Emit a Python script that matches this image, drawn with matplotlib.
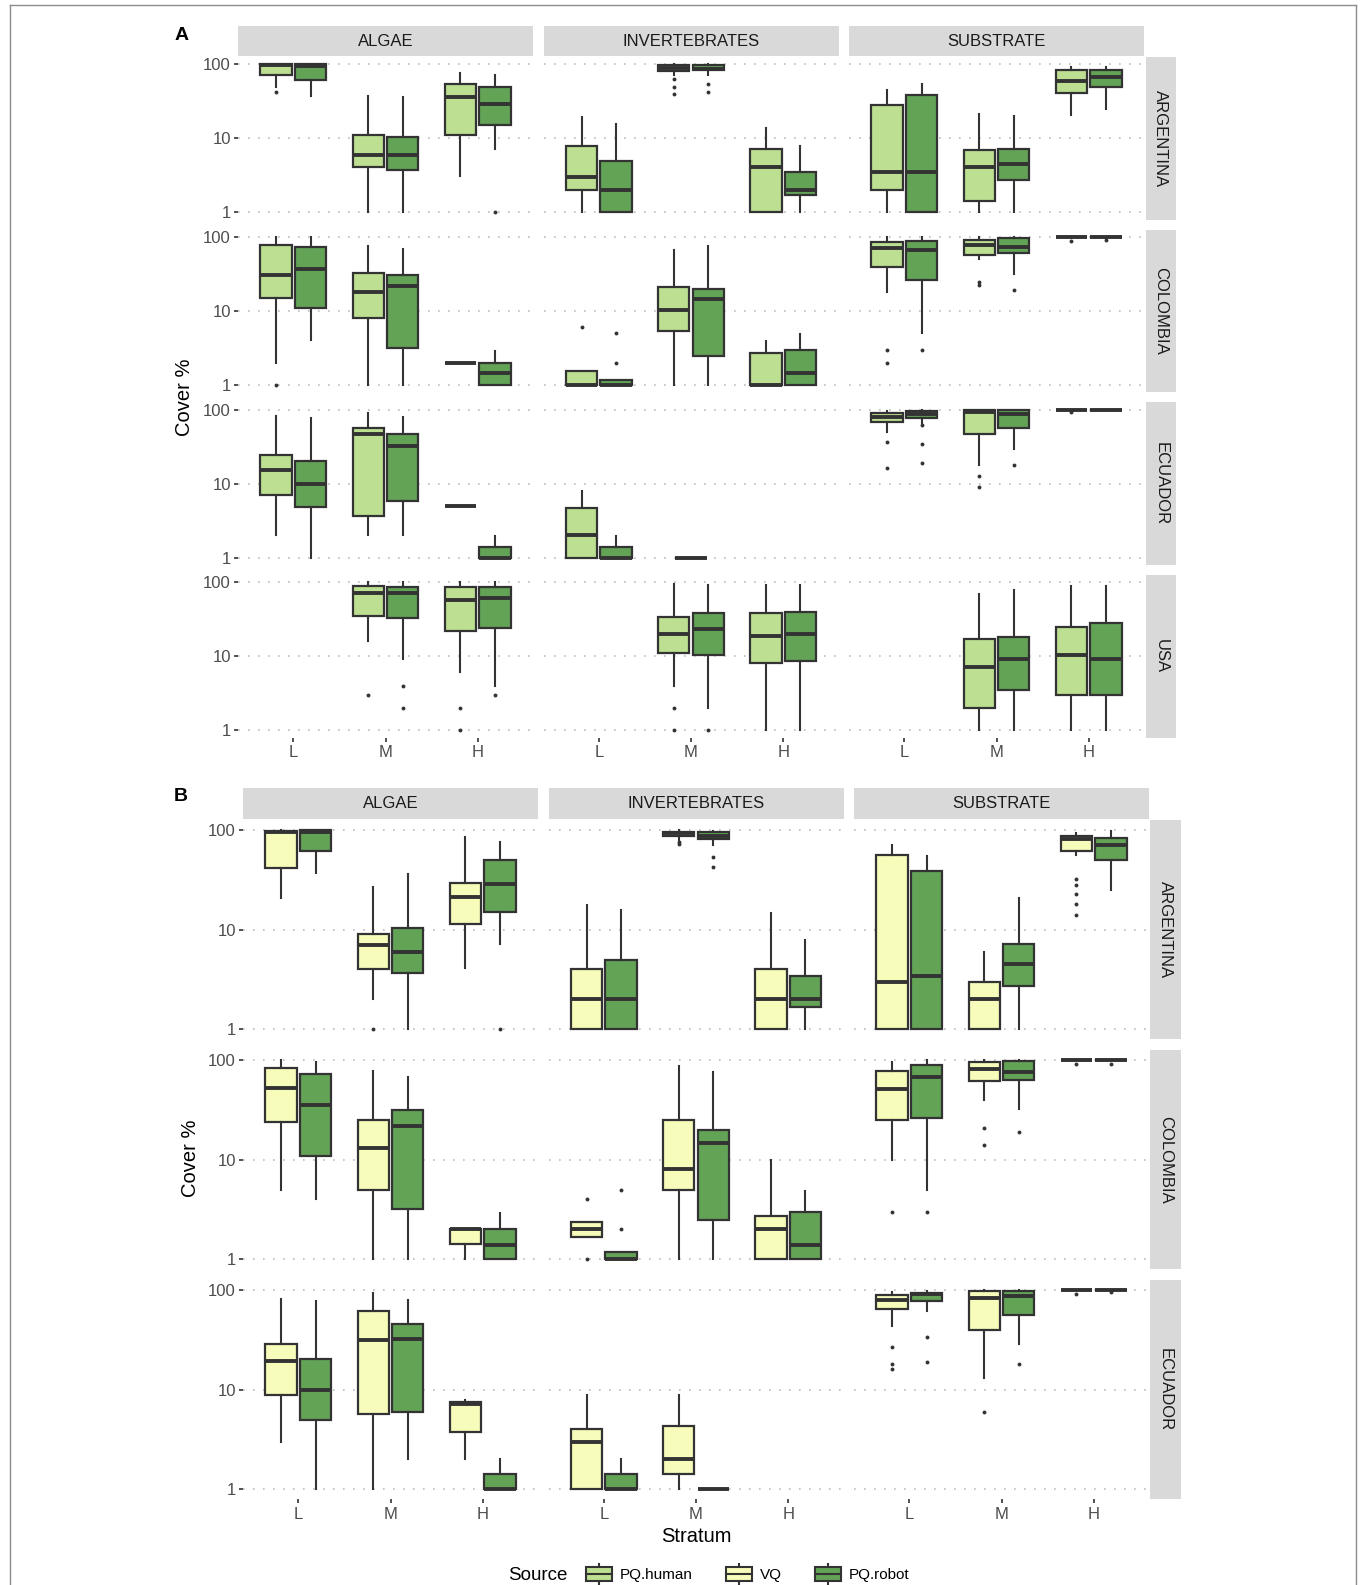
import matplotlib
matplotlib.use('Agg')
import matplotlib.pyplot as plt
from matplotlib.patches import Patch, Rectangle
from matplotlib.lines import Line2D
from matplotlib.legend_handler import HandlerBase

plt.rcParams['font.family'] = ['Liberation Sans', 'DejaVu Sans']

# ---------------------------------------------------------------------------
STRATA = ['L', 'M', 'H']
GROUPS = ['ALGAE', 'INVERTEBRATES', 'SUBSTRATE']
COUNTRIES_A = ['ARGENTINA', 'COLOMBIA', 'ECUADOR', 'USA']
COUNTRIES_B = ['ARGENTINA', 'COLOMBIA', 'ECUADOR']
SOURCES_A = ['PQ.human', 'PQ.robot']
SOURCES_B = ['VQ', 'PQ.robot']
LEGEND_SOURCES = ['PQ.human', 'VQ', 'PQ.robot']
COLORS = {'PQ.human': '#BDDF92', 'VQ': '#F7FCBA', 'PQ.robot': '#62A356'}

# (stratum, source, whisker low, q1, median, q3, whisker high, outliers)
A_ARGENTINA_ALGAE = [
    ('L', 'PQ.human', 50, 72, 98, 100, 100, [43]),
    ('L', 'PQ.robot', 37, 61, 95, 100, 100, []),
    ('M', 'PQ.human', 1, 4.1, 6.0, 11, 37, []),
    ('M', 'PQ.robot', 1, 3.7, 6.0, 10.4, 36, []),
    ('H', 'PQ.human', 3.1, 11, 36, 55, 77, []),
    ('H', 'PQ.robot', 7.2, 15, 29, 49, 73, [1]),
]
A_ARGENTINA_INVERT = [
    ('L', 'PQ.human', 1, 2.0, 3.0, 8.0, 19.6, []),
    ('L', 'PQ.robot', 1, 1, 2.0, 5.0, 15.6, []),
    ('M', 'PQ.human', 72, 82, 90, 97, 100, [63, 50, 40]),
    ('M', 'PQ.robot', 72, 83, 87, 97, 100, [54, 43]),
    ('H', 'PQ.human', 1, 1, 4.1, 7.1, 13.8, []),
    ('H', 'PQ.robot', 1, 1.7, 2.0, 3.5, 7.9, []),
]
A_ARGENTINA_SUBSTRATE = [
    ('L', 'PQ.human', 1, 2.0, 3.5, 28.5, 45, []),
    ('L', 'PQ.robot', 1, 1, 3.5, 38.5, 54, []),
    ('M', 'PQ.human', 1, 1.42, 4.1, 7.0, 21.5, []),
    ('M', 'PQ.robot', 1, 2.7, 4.45, 7.3, 20.2, []),
    ('H', 'PQ.human', 21, 41, 60, 85, 93, []),
    ('H', 'PQ.robot', 25, 50, 68, 84, 93, []),
]
A_COLOMBIA_ALGAE = [
    ('L', 'PQ.human', 2.0, 15.2, 31, 77, 100, [1]),
    ('L', 'PQ.robot', 4.0, 11.1, 37, 73, 100, []),
    ('M', 'PQ.human', 1, 8.0, 18.1, 33, 75, []),
    ('M', 'PQ.robot', 1, 3.2, 22, 31, 68, []),
    ('H', 'PQ.human', 2, 2, 2, 2, 2, []),
    ('H', 'PQ.robot', 1, 1, 1.47, 2.0, 2.9, []),
]
A_COLOMBIA_INVERT = [
    ('L', 'PQ.human', 1, 1, 1, 1.56, 1.56, [6.0]),
    ('L', 'PQ.robot', 1, 1, 1, 1.18, 1.18, [5.0, 2.0]),
    ('M', 'PQ.human', 1, 5.35, 10.2, 21.2, 67, []),
    ('M', 'PQ.robot', 1, 2.5, 14.7, 20, 75, []),
    ('H', 'PQ.human', 1, 1, 1, 2.7, 3.9, []),
    ('H', 'PQ.robot', 1, 1, 1.44, 3.0, 4.9, []),
]
A_COLOMBIA_SUBSTRATE = [
    ('L', 'PQ.human', 18, 39, 70, 85, 100, [3.0, 2.0]),
    ('L', 'PQ.robot', 5.0, 26, 67, 89, 100, [3.0]),
    ('M', 'PQ.human', 50, 58, 77, 92, 100, [25, 22.5]),
    ('M', 'PQ.robot', 32, 61, 74, 98, 100, [19]),
    ('H', 'PQ.human', 98, 99, 100, 100, 100, [88]),
    ('H', 'PQ.robot', 98, 99, 100, 100, 100, [91]),
]
A_ECUADOR_ALGAE = [
    ('L', 'PQ.human', 2.0, 7.0, 15.5, 24, 83, []),
    ('L', 'PQ.robot', 1, 4.9, 10, 20.5, 78, []),
    ('M', 'PQ.human', 2.0, 3.7, 47, 57, 90, []),
    ('M', 'PQ.robot', 2.0, 5.9, 32, 47, 80, []),
    ('H', 'PQ.human', 5, 5, 5, 5, 5, []),
    ('H', 'PQ.robot', 1, 1, 1, 1.41, 1.95, []),
]
A_ECUADOR_INVERT = [
    ('L', 'PQ.human', 1, 1, 2.0, 4.7, 7.9, []),
    ('L', 'PQ.robot', 1, 1, 1, 1.41, 1.95, []),
    ('M', 'PQ.robot', 1, 1, 1, 1, 1, []),
]
A_ECUADOR_SUBSTRATE = [
    ('L', 'PQ.human', 50, 68, 80, 90, 95, [37, 16]),
    ('L', 'PQ.robot', 65, 78, 86, 96, 100, [61, 34, 19]),
    ('M', 'PQ.human', 18, 47, 93, 100, 100, [12.7, 8.9]),
    ('M', 'PQ.robot', 29, 56, 86, 100, 100, [18]),
    ('H', 'PQ.human', 99, 100, 100, 100, 100, [93]),
    ('H', 'PQ.robot', 100, 100, 100, 100, 100, []),
]
A_USA_ALGAE = [
    ('M', 'PQ.human', 16, 35, 72, 90, 100, [3.0]),
    ('M', 'PQ.robot', 9.2, 33, 72, 86, 100, [4.0, 2.0]),
    ('H', 'PQ.human', 6.1, 22, 58, 86, 100, [2.0, 1.0]),
    ('H', 'PQ.robot', 4.0, 24, 62, 85, 100, [3.0]),
]
A_USA_INVERT = [
    ('M', 'PQ.human', 4.0, 11, 20, 34, 96, [2.0, 1.0]),
    ('M', 'PQ.robot', 2.0, 10.4, 23, 38, 92, [1.0]),
    ('H', 'PQ.human', 1, 8.0, 19, 38, 92, []),
    ('H', 'PQ.robot', 1, 8.5, 20, 40, 92, []),
]
A_USA_SUBSTRATE = [
    ('M', 'PQ.human', 1, 2.0, 7.1, 17.2, 70, []),
    ('M', 'PQ.robot', 1, 3.45, 9.2, 17.9, 78, []),
    ('H', 'PQ.human', 1, 3.0, 10.5, 24.5, 88, []),
    ('H', 'PQ.robot', 1, 3.0, 9.1, 27.8, 88, []),
]

B_ARGENTINA_ALGAE = [
    ('L', 'VQ', 21, 42, 95, 98, 100, []),
    ('L', 'PQ.robot', 37, 62, 95, 100, 100, []),
    ('M', 'VQ', 2.0, 4.0, 7.0, 9.0, 26.6, [1.0]),
    ('M', 'PQ.robot', 1, 3.7, 6.0, 10.5, 36.5, []),
    ('H', 'VQ', 4.1, 11.5, 21.4, 29.4, 85, []),
    ('H', 'PQ.robot', 7.1, 15.2, 29, 49.6, 75, [1.0]),
]
B_ARGENTINA_INVERT = [
    ('L', 'VQ', 1, 1, 2.0, 4.0, 17.8, []),
    ('L', 'PQ.robot', 1, 1, 2.0, 5.0, 15.9, []),
    ('M', 'VQ', 80, 87, 93, 96, 100, [76, 72.5]),
    ('M', 'PQ.robot', 70, 81, 86, 95, 98.5, [54, 43]),
    ('H', 'VQ', 1, 1, 2.0, 4.0, 14.8, []),
    ('H', 'PQ.robot', 1, 1.66, 2.0, 3.43, 7.9, []),
]
B_ARGENTINA_SUBSTRATE = [
    ('L', 'VQ', 1, 1, 3.0, 55.7, 70.7, []),
    ('L', 'PQ.robot', 1, 1, 3.45, 39, 55, []),
    ('M', 'VQ', 1, 1, 2.0, 3.0, 5.9, []),
    ('M', 'PQ.robot', 1, 2.7, 4.5, 7.2, 20.8, []),
    ('H', 'VQ', 56, 62, 81, 86, 93, [32.5, 28, 23, 18, 14]),
    ('H', 'PQ.robot', 25, 50, 70, 84, 97, []),
]
B_COLOMBIA_ALGAE = [
    ('L', 'VQ', 5.0, 24, 52, 84, 100, []),
    ('L', 'PQ.robot', 4.0, 11, 35, 73, 96.5, []),
    ('M', 'VQ', 1, 5.0, 13.1, 25, 78, []),
    ('M', 'PQ.robot', 1, 3.2, 22, 31.4, 68, []),
    ('H', 'VQ', 1, 1.41, 2.0, 2.03, 2.03, []),
    ('H', 'PQ.robot', 1, 1, 1.4, 2.0, 2.94, []),
]
B_COLOMBIA_INVERT = [
    ('L', 'VQ', 1.68, 1.68, 2.0, 2.35, 2.35, [4.0, 1.0]),
    ('L', 'PQ.robot', 1, 1, 1, 1.18, 1.18, [5.0, 2.0]),
    ('M', 'VQ', 1, 5.0, 8.0, 25, 86, []),
    ('M', 'PQ.robot', 1, 2.5, 14.6, 19.8, 76, []),
    ('H', 'VQ', 1, 1, 2.0, 2.7, 10, []),
    ('H', 'PQ.robot', 1, 1, 1.4, 3.0, 4.9, []),
]
B_COLOMBIA_SUBSTRATE = [
    ('L', 'VQ', 10, 25, 51, 78, 95, [3.0]),
    ('L', 'PQ.robot', 5.0, 26, 68, 89, 100, [3.0]),
    ('M', 'VQ', 40, 61.5, 82, 96, 100, [21, 14]),
    ('M', 'PQ.robot', 32, 62.5, 75, 97.6, 100, [19]),
    ('H', 'VQ', 99, 100, 100, 100, 100, [91]),
    ('H', 'PQ.robot', 99, 100, 100, 100, 100, [91]),
]
B_ECUADOR_ALGAE = [
    ('L', 'VQ', 3.0, 8.9, 19.3, 28.4, 81, []),
    ('L', 'PQ.robot', 1, 5.0, 10, 20.4, 78, []),
    ('M', 'VQ', 1, 5.75, 31.6, 62, 93, []),
    ('M', 'PQ.robot', 2.0, 5.9, 32, 46, 79, []),
    ('H', 'VQ', 2.0, 3.74, 7.1, 7.5, 7.8, []),
    ('H', 'PQ.robot', 1, 1, 1, 1.41, 2.0, []),
]
B_ECUADOR_INVERT = [
    ('L', 'VQ', 1, 1, 3.0, 4.0, 8.9, []),
    ('L', 'PQ.robot', 1, 1, 1, 1.42, 2.0, []),
    ('M', 'VQ', 1, 1.42, 2.0, 4.3, 8.9, []),
    ('M', 'PQ.robot', 1, 1, 1, 1, 1, []),
]
B_ECUADOR_SUBSTRATE = [
    ('L', 'VQ', 44, 64, 80, 90, 95, [27, 18, 16]),
    ('L', 'PQ.robot', 61, 78, 92, 94, 97, [34, 19]),
    ('M', 'VQ', 13, 40, 84, 98.5, 100, [6.0]),
    ('M', 'PQ.robot', 29, 56, 88, 98.5, 100, [18]),
    ('H', 'VQ', 99, 100, 100, 100, 100, [91]),
    ('H', 'PQ.robot', 99, 100, 100, 100, 100, [95]),
]

FACETS_A = {
    'ARGENTINA': [A_ARGENTINA_ALGAE, A_ARGENTINA_INVERT, A_ARGENTINA_SUBSTRATE],
    'COLOMBIA':  [A_COLOMBIA_ALGAE, A_COLOMBIA_INVERT, A_COLOMBIA_SUBSTRATE],
    'ECUADOR':   [A_ECUADOR_ALGAE, A_ECUADOR_INVERT, A_ECUADOR_SUBSTRATE],
    'USA':       [A_USA_ALGAE, A_USA_INVERT, A_USA_SUBSTRATE],
}
FACETS_B = {
    'ARGENTINA': [B_ARGENTINA_ALGAE, B_ARGENTINA_INVERT, B_ARGENTINA_SUBSTRATE],
    'COLOMBIA':  [B_COLOMBIA_ALGAE, B_COLOMBIA_INVERT, B_COLOMBIA_SUBSTRATE],
    'ECUADOR':   [B_ECUADOR_ALGAE, B_ECUADOR_INVERT, B_ECUADOR_SUBSTRATE],
}

# ---------------------------------------------------------------------------
W, H = 1363, 1585
EDGE = '#333333'
STRIP = '#D9D9D9'
DODGE = 0.375
BOX_W = 0.34

PANEL_A = dict(label='A', countries=COUNTRIES_A, facets=FACETS_A, sources=SOURCES_A,
               col_left=[238, 543.5, 849], col_w=295, top=57, row_h=162.8, pitch=172.6,
               strip_top=26, strip_h=30, rstrip_x=1145.5, rstrip_w=30.5,
               label_xy=(182, 35), ylab_xy=(185, 397))
PANEL_B = dict(label='B', countries=COUNTRIES_B, facets=FACETS_B, sources=SOURCES_B,
               col_left=[243, 548.5, 854], col_w=295, top=820, row_h=219.3, pitch=230,
               strip_top=788, strip_h=31, rstrip_x=1150, rstrip_w=31,
               label_xy=(181, 797), ylab_xy=(190, 1158))


def px_rect(x, y, w, h):
    return [x / W, 1 - (y + h) / H, w / W, h / H]


def draw_facet(ax, rows, sources):
    for k, st in enumerate(STRATA):
        here = sorted([r for r in rows if r[0] == st], key=lambda r: sources.index(r[1]))
        n = len(here)
        for j, r in enumerate(here):
            off = 0.0 if n == 1 else (j - 0.5) * DODGE
            stats = [dict(whislo=r[2], q1=r[3], med=r[4], q3=r[5], whishi=r[6], fliers=r[7])]
            ax.bxp(stats, positions=[k + 1 + off], widths=BOX_W, patch_artist=True,
                   showcaps=False, manage_ticks=False,
                   boxprops=dict(facecolor=COLORS[r[1]], edgecolor=EDGE, linewidth=1.6),
                   medianprops=dict(color=EDGE, linewidth=2.8, solid_capstyle='butt'),
                   whiskerprops=dict(color=EDGE, linewidth=1.5),
                   flierprops=dict(marker='o', markersize=2.8, markerfacecolor=EDGE,
                                   markeredgecolor='none'))


def draw_panel(fig, P):
    nrow = len(P['countries'])
    for i, country in enumerate(P['countries']):
        y0 = P['top'] + i * P['pitch']
        for c, grp in enumerate(GROUPS):
            x0 = P['col_left'][c]
            ax = fig.add_axes(px_rect(x0, y0, P['col_w'], P['row_h']))
            draw_facet(ax, P['facets'][country][c], P['sources'])
            ax.set_yscale('log')
            ax.set_ylim(10 ** -0.1, 10 ** 2.1)
            ax.set_xlim(0.4, 3.6)
            ax.set_yticks([1, 10, 100])
            ax.set_yticklabels(['1', '10', '100'])
            ax.yaxis.set_minor_locator(matplotlib.ticker.NullLocator())
            ax.set_xticks([1, 2, 3])
            ax.set_xticklabels(STRATA)
            for s in ax.spines.values():
                s.set_visible(False)
            ax.grid(axis='y', which='major', linestyle=(0, (1, 5)), color='#BDBDBD', lw=1.2)
            ax.set_axisbelow(True)
            ax.tick_params(length=3.2, width=1.2, color=EDGE, labelcolor='#4D4D4D',
                           labelsize=12, pad=2)
            ax.tick_params(left=(c == 0), labelleft=(c == 0),
                           bottom=(i == nrow - 1), labelbottom=(i == nrow - 1))
            if i == 0:
                sax = fig.add_axes(px_rect(x0, P['strip_top'], P['col_w'], P['strip_h']))
                sax.set_facecolor(STRIP)
                sax.set_xticks([]); sax.set_yticks([])
                for s in sax.spines.values():
                    s.set_visible(False)
                sax.text(0.5, 0.5, grp, ha='center', va='center', fontsize=12, color='#1A1A1A',
                         transform=sax.transAxes)
        rax = fig.add_axes(px_rect(P['rstrip_x'], y0, P['rstrip_w'], P['row_h']))
        rax.set_facecolor(STRIP)
        rax.set_xticks([]); rax.set_yticks([])
        for s in rax.spines.values():
            s.set_visible(False)
        rax.text(0.5, 0.5, country, ha='center', va='center', rotation=270, fontsize=12,
                 color='#1A1A1A', transform=rax.transAxes)

    lx, ly = P['label_xy']
    fig.text(lx / W, 1 - ly / H, P['label'], ha='center', va='center',
             fontsize=14, fontweight='bold')
    yx, yy = P['ylab_xy']
    fig.text(yx / W, 1 - yy / H, 'Cover %', ha='center', va='center', rotation=90,
             fontsize=14.5)


class BoxKey(HandlerBase):
    def create_artists(self, legend, orig_handle, xdescent, ydescent, width, height,
                       fontsize, trans):
        x0, y0 = -xdescent, -ydescent
        cx = x0 + width / 2
        box = Rectangle((x0, y0 + 0.15 * height), width, 0.7 * height,
                        facecolor=orig_handle.get_facecolor(), edgecolor=EDGE, lw=1.5,
                        transform=trans)
        med = Line2D([x0, x0 + width], [y0 + height / 2] * 2, color=EDGE, lw=1.5,
                     transform=trans)
        wt = Line2D([cx, cx], [y0 + 0.85 * height, y0 + height], color=EDGE, lw=1.5,
                    transform=trans)
        wb = Line2D([cx, cx], [y0, y0 + 0.15 * height], color=EDGE, lw=1.5, transform=trans)
        return [wt, wb, box, med]


fig = plt.figure(figsize=(W / 100, H / 100), dpi=100)
fig.patch.set_facecolor('white')

draw_panel(fig, PANEL_A)
draw_panel(fig, PANEL_B)

fig.text(696 / W, 1 - 1537 / H, 'Stratum', ha='center', va='center', fontsize=14.5)
fig.text(508 / W, 1 - 1575 / H, 'Source', ha='left', va='center', fontsize=13.5)
handles = [Patch(facecolor=COLORS[s]) for s in LEGEND_SOURCES]
fig.legend(handles=handles, labels=LEGEND_SOURCES, handler_map={Patch: BoxKey()},
           ncol=3, frameon=False, loc='center left',
           bbox_to_anchor=(586 / W, 1 - 1574 / H), handlelength=1.7, handleheight=1.7,
           handletextpad=0.5, columnspacing=2.2, fontsize=11, borderpad=0,
           borderaxespad=0)

# outer frame
for xs, ys in [([10, 10], [H + 5, 5]), ([10, 1356], [5, 5]), ([1356, 1356], [5, H + 5])]:
    fig.add_artist(Line2D([x / W for x in xs], [1 - y / H for y in ys], color='#8C8C8C',
                          lw=1.0))

fig.savefig('out.png', dpi=100)
